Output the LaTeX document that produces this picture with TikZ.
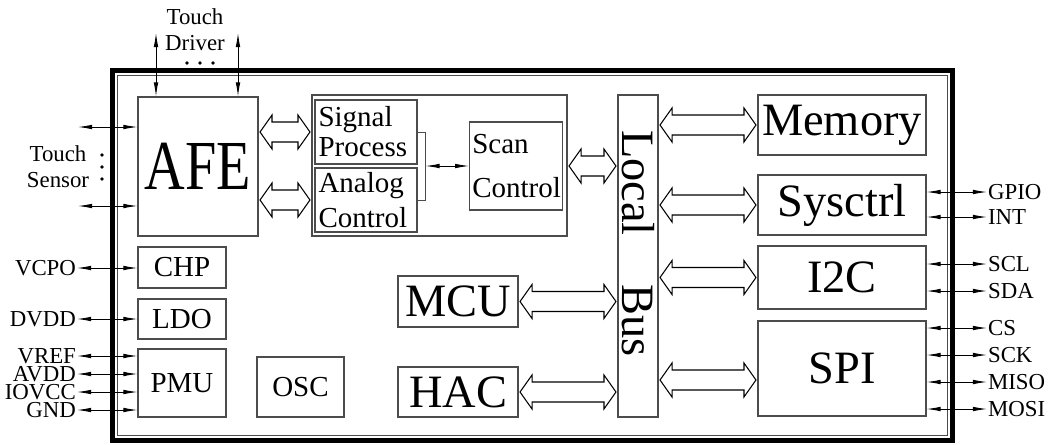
\documentclass[tikz,border=0pt]{standalone}
\usepackage{fontspec}
\setmainfont{Liberation Serif}
\usetikzlibrary{arrows.meta,calc}

\tikzset{
  blk/.style 2 args={draw=black!70, line width=0.6pt, inner sep=1.5pt,
    minimum width=#1*0.02cm, minimum height=#2*0.02cm},
  big/.style={font=\fontsize{26.4}{28}\selectfont},
  mid/.style={font=\fontsize{16.5}{17}\selectfont},
  lbl/.style={font=\fontsize{13}{15}\selectfont, inner sep=0.4pt},
  pin/.style={{Latex[length=8pt,width=2.6pt]}-{Latex[length=8pt,width=2.6pt]}, line width=0.5pt},
  fat/.style={draw=black, line width=0.6pt, fill=white},
}

% hollow double arrow between two x positions, at the height of #3
\newcommand{\busarrow}[3]{%
  \draw[fat] let \p1=(#1), \p2=(#2), \p3=(#3) in
    (\x1+0.03cm,\y3) -- (\x1+0.27cm,\y3+0.34cm) -- (\x1+0.27cm,\y3+0.2cm)
    -- (\x2-0.27cm,\y3+0.2cm) -- (\x2-0.27cm,\y3+0.34cm) -- (\x2-0.03cm,\y3)
    -- (\x2-0.27cm,\y3-0.34cm) -- (\x2-0.27cm,\y3-0.2cm)
    -- (\x1+0.27cm,\y3-0.2cm) -- (\x1+0.27cm,\y3-0.34cm) -- cycle;}

\begin{document}
\begin{tikzpicture}[x=0.02cm,y=-0.02cm]
  \useasboundingbox (0,0) rectangle (1049,444);

  % chip outline
  \draw[line width=0.1cm] (112.5,70.5) rectangle (952,440);
  \draw[line width=0.5pt, black!70] (117.5,75.5) rectangle (947.5,435.5);

  % blocks
  \node[blk={120}{139}, font=\fontsize{40}{40}\selectfont] (afe) at (198,166.5) {\scalebox{0.8}[1]{AFE}};
  \node[blk={255}{141}] (proc) at (439.5,165.5) {};
  \node[blk={102}{64}, mid, text width=1.9cm, align=left] (sig) at (366,132) {Signal\\Process};
  \node[blk={102}{64}, mid, text width=1.9cm, align=left] (ana) at (366,200) {Analog\\[3pt]Control};
  \node[blk={92}{88}, mid, text width=1.75cm, align=left] (scan) at (516,166) {Scan\\[8.5pt]Control};
  \node[blk={40}{322}] (bus) at (638,256) {};
  \node[big, rotate=-90, inner sep=0pt] (bustxt) at (638,243.5) {Local\hspace{1.05em}Bus};
  \node[blk={168}{60}, big] (mem) at (842,125) {Memory};
  \node[blk={168}{60}, big] (sys) at (842,205) {Sysctrl};
  \node[blk={168}{63}, big] (i2c) at (842,277.5) {I2C};
  \node[blk={168}{95}, big] (spi) at (842,368.5) {SPI};
  \node[blk={120}{51}, big] (mcu) at (458,301.5) {MCU};
  \node[blk={120}{50}, big] (hac) at (458,392) {HAC};
  \node[blk={88}{41}, mid] (chp) at (182,267.5) {CHP};
  \node[blk={88}{40}, mid] (ldo) at (182,319) {LDO};
  \node[blk={88}{68}, mid] (pmu) at (182,383) {PMU};
  \node[blk={87}{60}, mid] (osc) at (300.5,387) {OSC};

  % bus arrows
  \busarrow{afe.east}{proc.west}{sig}
  \busarrow{afe.east}{proc.west}{ana}
  \busarrow{proc.east}{bus.west}{scan}
  \busarrow{mcu.east}{bus.west}{mcu}
  \busarrow{hac.east}{bus.west}{hac}
  \busarrow{bus.east}{mem.west}{mem}
  \busarrow{bus.east}{sys.west}{sys}
  \busarrow{bus.east}{i2c.west}{i2c}
  \busarrow{bus.east}{spi.west}{$(spi.center)+(0,11.5)$}

  % signal process / analog control to scan control
  \draw[line width=0.5pt, black!70] (sig.east) -- ++(8,0) |- (ana.east);
  \coordinate (brk) at ($(sig.east)!0.5!(ana.east)+(8,0)$);
  \draw[pin] (brk) -- (brk -| scan.west);

  % touch driver
  \node[lbl, align=center] (tdrv) at (195,30) {Touch\\Driver};
  \coordinate (td1) at (156,33);
  \coordinate (td2) at (238,33);
  \draw[pin] (td1) -- (td1 |- afe.north);
  \draw[pin] (td2) -- (td2 |- afe.north);
  \foreach \xx in {187,200,213}
    \fill (\xx,63) circle (1.8);

  % touch sensor
  \node[lbl, align=center] (tsns) at (58,167) {Touch\\Sensor};
  \coordinate (ts1) at (78,127);
  \coordinate (ts2) at (78,206);
  \draw[pin] (ts1) -- (ts1 -| afe.west);
  \draw[pin] (ts2) -- (ts2 -| afe.west);
  \foreach \yy in {155,167,179}
    \fill (102,\yy) circle (1.8);

  % power pins
  \foreach \nm/\yy/\blkname in {VCPO/268/chp, DVDD/319/ldo, VREF/356/pmu,
      AVDD/374/pmu, IOVCC/392/pmu, GND/410/pmu} {
    \node[lbl, anchor=east] (\nm) at (77,\yy) {\nm};
    \draw[pin] (\nm.east) -- (\nm.east -| \blkname.west);
  }

  % host pins
  \foreach \nm/\yy/\blkname in {GPIO/192/sys, INT/217/sys, SCL/264/i2c,
      SDA/291/i2c, CS/328/spi, SCK/355/spi, MISO/382/spi, MOSI/409/spi} {
    \node[lbl, anchor=west] (\nm) at (987,\yy) {\nm};
    \draw[pin] (\nm.west -| \blkname.east) -- (\nm.west);
  }
\end{tikzpicture}
\end{document}
